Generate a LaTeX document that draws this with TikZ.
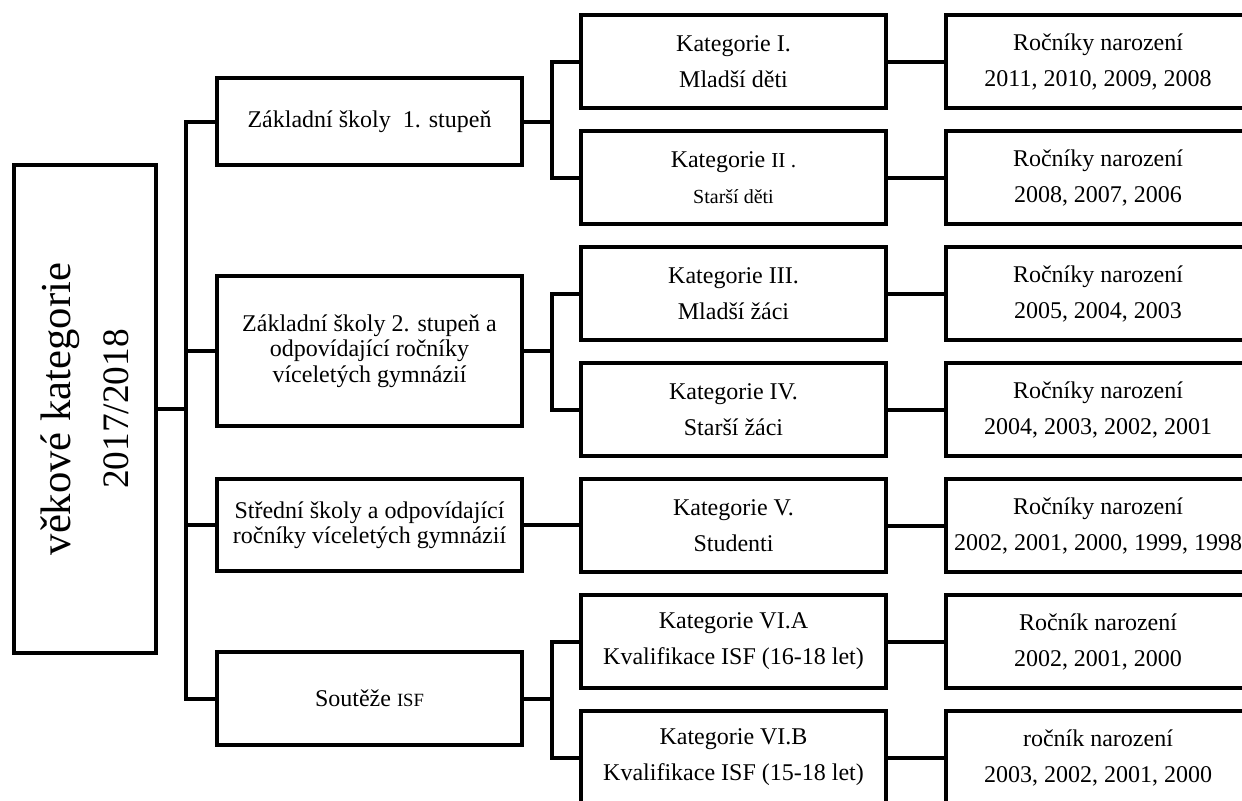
\documentclass[tikz,border=0pt]{standalone}
\usepackage{fontspec}
\setmainfont{Liberation Serif}
\begin{document}
\begin{tikzpicture}[x=0.75pt,y=-0.75pt,
  box/.style={draw, line width=3pt, inner sep=2pt, align=center,
    minimum width=228.75pt, minimum height=69.75pt,
    font=\fontsize{18}{27}\selectfont},
  lone/.style={box, font=\fontsize{18}{19}\selectfont},
  conn/.style={line width=3pt}]
\useasboundingbox (0,0) rectangle (1242,800);
\clip (0,0) rectangle (1242,800);
% root
\node[box, rotate=90, minimum width=366pt, minimum height=106.5pt,
  font=\fontsize{32}{43}\selectfont] (root) at (85,409)
  {věkové kategorie\\{\fontsize{28}{43}\selectfont 2017/2018}};
% level 1
\node[lone, minimum height=65.25pt] (A) at (369.5,121.5) {Základní školy~ 1. stupeň};
\node[lone, minimum height=112.5pt] (B) at (369.5,351) {Základní školy 2. stupeň a\\odpovídající ročníky\\víceletých gymnázií};
\node[lone, minimum height=69pt] (C) at (369.5,525) {Střední školy a odpovídající\\ročníky víceletých gymnázií};
\node[lone] (D) at (369.5,698.5) {Soutěže {\fontsize{14}{19}\selectfont ISF}};
% level 2
\node[box] (K1) at (733.5,61.5) {Kategorie I.\\Mladší děti};
\node[box] (K2) at (733.5,177.5) {Kategorie {\fontsize{16}{27}\selectfont II .}\\{\fontsize{15}{27}\selectfont Starší děti}};
\node[box] (K3) at (733.5,293.5) {Kategorie III.\\Mladší žáci};
\node[box] (K4) at (733.5,409.5) {Kategorie IV.\\Starší žáci};
\node[box] (K5) at (733.5,525.5) {Kategorie V.\\Studenti};
\node[box] (K6) at (733.5,641.5) {Kategorie VI.A\\Kvalifikace ISF (16-18 let)};
\node[box] (K7) at (733.5,757.5) {Kategorie VI.B\\Kvalifikace ISF (15-18 let)};
% level 3
\node[box, minimum width=228pt] (R1) at (1098,61.5) {Ročníky narození\\2011, 2010, 2009, 2008};
\node[box, minimum width=228pt] (R2) at (1098,177.5) {Ročníky narození\\2008, 2007, 2006};
\node[box, minimum width=228pt] (R3) at (1098,293.5) {Ročníky narození\\2005, 2004, 2003};
\node[box, minimum width=228pt] (R4) at (1098,409.5) {Ročníky narození\\2004, 2003, 2002, 2001};
\node[box, minimum width=228pt] (R5) at (1098,525.5) {Ročníky narození\\2002, 2001, 2000, 1999, 1998};
\node[box, minimum width=228pt] (R6) at (1098,641.5) {Ročník narození\\2002, 2001, 2000};
\node[box, minimum width=228pt] (R7) at (1098,757.5) {ročník narození\\2003, 2002, 2001, 2000};
% connectors
\coordinate (tr) at (186,0);
\coordinate (br) at (552,0);
\draw[conn] (root.south) -- (root.south -| tr);
\draw[conn] (A.west) -- (A.west -| tr) -- (D.west -| tr) -- (D.west);
\draw[conn] (B.west) -- (B.west -| tr);
\draw[conn] (C.west) -- (C.west -| tr);
\draw[conn] (A.east) -- (A.east -| br);
\draw[conn] (K1.west) -- (K1.west -| br) -- (K2.west -| br) -- (K2.west);
\draw[conn] (B.east) -- (B.east -| br);
\draw[conn] (K3.west) -- (K3.west -| br) -- (K4.west -| br) -- (K4.west);
\draw[conn] (C.east) -- (C.east -| K5.west);
\draw[conn] (D.east) -- (D.east -| br);
\draw[conn] (K6.west) -- (K6.west -| br) -- (K7.west -| br) -- (K7.west);
\draw[conn] (K1.east) -- (R1.west);
\draw[conn] (K2.east) -- (R2.west);
\draw[conn] (K3.east) -- (R3.west);
\draw[conn] (K4.east) -- (R4.west);
\draw[conn] (K5.east) -- (R5.west);
\draw[conn] (K6.east) -- (R6.west);
\draw[conn] (K7.east) -- (R7.west);
\end{tikzpicture}
\end{document}
